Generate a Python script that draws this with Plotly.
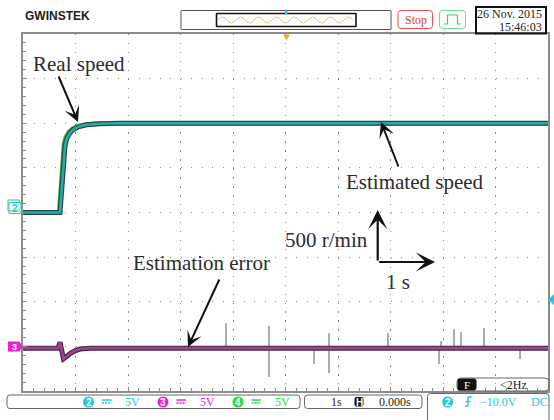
import plotly.graph_objects as go

W, H = 554, 420

# ---- waveform data -------------------------------------------------------
# time in seconds (1 s/div, 0 at screen centre), speed in r/min (500 r/min/div)
speed_t = [-5.0, -4.295, -4.20, -4.168, -4.105, -4.042, -3.947, -3.787, -3.533, -3.152, 5.0]
est_speed = [0, 0, 744, 826, 893, 930, 960, 983, 994, 1000, 1000]

real_t = [-5.0, -4.31, -4.22, -4.18, -4.12, -4.06, -3.96, -3.80, -3.55, -3.10, 5.0]
real_speed = [0, 0, 770, 850, 905, 938, 964, 985, 996, 1000, 1000]

err_t = [-5.0, -4.333, -4.295, -4.276, -4.229, -4.181, -4.105, -4.01, -3.914, -3.724, 5.0]
err_val = [-20, -20, 47, -20, -140, -120, -80, -50, -30, -20, -20]

# isolated glitches on the error channel: time, lower end, upper end
spike_t = [-1.133, -0.314, 0.543, 0.829, 1.952, 2.924, 2.962, 3.21, 3.343, 3.781, 4.467]
spike_lo = [-20, -343, -198, -299, -20, -198, -20, -20, -20, -20, -142]
spike_hi = [259, 229, -20, 148, 148, -20, 60, 192, 159, 204, -20]

# ---- instrument readouts ---------------------------------------------------
channels = ["2", "3", "4"]
channel_scale = ["5V", "5V", "5V"]
timebase = "1s"
h_position = "0.000s"
trig_channel = "2"
trig_level = "\u221210.0V"
trig_coupling = "DC"
freq_readout = "<2Hz"
date_text = "26 Nov. 2015"
time_text = "15:46:03"

CYAN = "#1ec8e6"
MAGENTA = "#ee22cc"
GREEN = "#22dd44"
SERIF = "Liberation Serif"
NPTS = {"M": 1, "L": 1, "Q": 2}


def P(x, y):
    """pixel position -> paper coordinates"""
    return x / W, 1 - y / H


def path_from(points, close=True):
    parts = []
    for cmd, pts in points:
        n = NPTS[cmd]
        for i in range(0, len(pts), n):
            parts.append(cmd + " ".join("%.5f,%.5f" % P(*p) for p in pts[i:i + n]))
    return " ".join(parts) + (" Z" if close else "")


def rrect(x0, y0, x1, y1, r):
    return path_from([
        ("M", [(x0 + r, y0)]), ("L", [(x1 - r, y0)]), ("Q", [(x1, y0), (x1, y0 + r)]),
        ("L", [(x1, y1 - r)]), ("Q", [(x1, y1), (x1 - r, y1)]), ("L", [(x0 + r, y1)]),
        ("Q", [(x0, y1), (x0, y1 - r)]), ("L", [(x0, y0 + r)]), ("Q", [(x0, y0), (x0 + r, y0)]),
    ])


fig = go.Figure()

# real speed (channel 4) under the estimated speed (channel 2)
fig.add_trace(go.Scatter(x=real_t, y=real_speed, mode="lines",
                         line=dict(color="#4aa832", width=4.5), hoverinfo="skip"))
fig.add_trace(go.Scatter(x=speed_t, y=est_speed, mode="lines",
                         line=dict(color="#234c48", width=5), hoverinfo="skip"))
fig.add_trace(go.Scatter(x=speed_t, y=est_speed, mode="lines",
                         line=dict(color="#29aba5", width=2.6), hoverinfo="skip"))

# estimation error (channel 3)
sx, sy = [], []
for t, lo, hi in zip(spike_t, spike_lo, spike_hi):
    sx += [t, t, None]
    sy += [lo, hi, None]
fig.add_trace(go.Scatter(x=sx, y=sy, mode="lines", yaxis="y2",
                         line=dict(color="#5a5a5a", width=1), hoverinfo="skip"))
fig.add_trace(go.Scatter(x=err_t, y=err_val, mode="lines", yaxis="y2",
                         line=dict(color="#4a2244", width=5), hoverinfo="skip"))
fig.add_trace(go.Scatter(x=err_t, y=err_val, mode="lines", yaxis="y2",
                         line=dict(color="#9c4690", width=2.6), hoverinfo="skip"))

x_dom = [23 / W, 548 / W]
y_dom = [1 - 391 / H, 1 - 34 / H]

fig.update_layout(
    width=W, height=H, margin=dict(l=0, r=0, t=0, b=0),
    paper_bgcolor="white", plot_bgcolor="white", showlegend=False,
    xaxis=dict(domain=x_dom, range=[-5, 5], dtick=1, showticklabels=False,
               showgrid=True, gridcolor="#8a8a8a", gridwidth=1.2, griddash="1.4px,7.55px",
               zeroline=False, showline=True, linecolor="#8c8c8c", linewidth=2, mirror=True,
               ticks="inside", ticklen=4, tickcolor="#8c8c8c",
               minor=dict(dtick=0.2, ticks="inside", ticklen=3, tickcolor="#8c8c8c", showgrid=False)),
    yaxis=dict(domain=y_dom, range=[-2000, 2000], dtick=500, showticklabels=False,
               showgrid=True, gridcolor="#8a8a8a", gridwidth=1.2, griddash="1.4px,9.1px",
               zeroline=False, showline=True, linecolor="#8c8c8c", linewidth=2, mirror=True,
               ticks="inside", ticklen=4, tickcolor="#8c8c8c",
               minor=dict(dtick=100, ticks="inside", ticklen=3, tickcolor="#8c8c8c", showgrid=False)),
    yaxis2=dict(domain=y_dom, range=[-500, 3500], overlaying="y", visible=False),
)

shapes = []
ann = []


def text(x, y, s, size=12, color="#222", family=SERIF, xanchor="center", bold=False):
    ann.append(dict(xref="paper", yref="paper", x=P(x, y)[0], y=P(x, y)[1], text=s,
                    showarrow=False, xanchor=xanchor, yanchor="middle",
                    font=dict(size=size, color=color, family=family,
                              weight="bold" if bold else "normal")))


def arrow(x0, y0, x1, y1, width=2, size=1.0, head=3):
    hx, hy = P(x1, y1)
    ann.append(dict(xref="paper", yref="paper", axref="pixel", ayref="pixel",
                    x=hx, y=hy, ax=x0 - x1, ay=y0 - y1, text="", showarrow=True,
                    arrowhead=head, arrowsize=size, arrowwidth=width,
                    arrowcolor="#111", standoff=0, startstandoff=0))


def line(x0, y0, x1, y1, color, width=1, dash="solid"):
    a, b = P(x0, y0)
    c, d = P(x1, y1)
    shapes.append(dict(type="line", xref="paper", yref="paper", x0=a, y0=b, x1=c, y1=d,
                       line=dict(color=color, width=width, dash=dash)))


def path(p, line_color=None, fill=None, width=1):
    shapes.append(dict(type="path", xref="paper", yref="paper", path=p,
                       line=dict(color=line_color or "rgba(0,0,0,0)", width=width),
                       fillcolor=fill or "rgba(0,0,0,0)"))


# ---- header -------------------------------------------------------------------
text(23, 16, "GWINSTEK", size=12, color="#222", family="Liberation Sans", xanchor="left", bold=True)

path(rrect(181, 10.5, 391, 29.5, 0.5), line_color="#555", width=1)
path(rrect(216.5, 13.5, 356, 26.5, 0.5), line_color="#111", width=1.6)
# memory-position wave icon
wave = [("M", [(218, 20)])]
xw, half, up = 218.0, 9.0, True
while xw + half <= 355:
    wave.append(("Q", [(xw + half / 2, 20 - 6 if up else 20 + 6), (xw + half, 20)]))
    xw += half
    up = not up
path(path_from(wave, close=False), line_color="#f2c84a", width=1)
path(rrect(285, 10.5, 287.5, 14.5, 0.3), fill=CYAN)
path(path_from([("M", [(283, 34.5)]), ("L", [(290, 34.5), (286.5, 40.5)])]), fill="#f0b020")

path(rrect(398, 10.5, 432.5, 28.5, 3), line_color="#e85050", width=1)
text(415.5, 19.5, "Stop", size=12, color="#e03a3a")
path(rrect(439.5, 10.5, 465.5, 28.5, 3), line_color="#66e08a", width=1)
path(path_from([("M", [(444, 24)]), ("L", [(447.5, 24), (447.5, 15), (457.5, 15), (457.5, 24), (461, 24)])],
               close=False), line_color="#3ccf66", width=1.2)

path(rrect(476, 7, 546, 33.5, 0), line_color="#111", width=2)
text(544, 14, date_text, size=12, xanchor="right")
text(544, 26.5, time_text, size=12, xanchor="right")

# ---- channel ground markers ----------------------------------------------------
path(path_from([("M", [(8, 200)]), ("L", [(19, 200), (21.5, 205.5), (19, 211), (8, 211)])]),
     line_color=GREEN, width=1)
path(path_from([("M", [(9, 202.5)]), ("L", [(20, 202.5), (22.5, 208), (20, 213.5), (9, 213.5)])]),
     line_color=CYAN, width=1)
text(15, 208.5, "2", size=10, color=CYAN, family="Liberation Sans", bold=True)
path(path_from([("M", [(8, 341.5)]), ("L", [(19.5, 341.5), (22.5, 346.5), (19.5, 351.5), (8, 351.5)])]),
     fill=MAGENTA)
text(14.5, 346.5, "3", size=9, color="white", family="Liberation Sans", bold=True)
# trigger level marker
path(path_from([("M", [(554, 294)]), ("L", [(554, 305), (548, 299.5)])]), fill=CYAN)

# ---- annotations ----------------------------------------------------------------
text(78.5, 64, "Real speed", size=21, color="#2c2c2c")
arrow(58, 75, 78, 122, width=2, size=1.3)
text(415, 182, "Estimated speed", size=21, color="#2c2c2c")
arrow(399, 168, 381, 122, width=2, size=1.3)
text(201, 263, "Estimation error", size=21, color="#2c2c2c")
arrow(220, 278, 188, 347, width=2, size=1.3)
text(326, 240, "500 r/min", size=21, color="#2c2c2c")
arrow(377.7, 262, 377.7, 210, width=2.2, size=1.45)
arrow(377.7, 262, 435, 262, width=2.2, size=1.45)
text(397.5, 282, "1 s", size=21, color="#2c2c2c")

# ---- bottom status bar ----------------------------------------------------------------
path(rrect(7, 395, 300, 408.5, 3), line_color="#666", width=1)
ch_colors = [CYAN, MAGENTA, GREEN]
ch_x = [88.5, 163, 238]
for name, vdiv, col, cx in zip(channels, channel_scale, ch_colors, ch_x):
    shapes.append(dict(type="circle", xref="paper", yref="paper",
                       x0=P(cx - 5.5, 0)[0], x1=P(cx + 5.5, 0)[0],
                       y0=P(0, 407.5)[1], y1=P(0, 396.5)[1],
                       fillcolor=col, line=dict(width=0)))
    text(cx, 402.3, name, size=10, color="white", family="Liberation Sans", bold=True)
    line(cx + 13.5, 400, cx + 23, 400, col, width=1.5)
    line(cx + 13.5, 403, cx + 23, 403, col, width=1.5, dash="2px,1px")
    text(cx + 44, 402, vdiv, size=12, color=col)

path(rrect(304.5, 395, 422, 408.5, 3), line_color="#666", width=1)
text(336, 402, timebase, size=12, color="#222")
path(rrect(354.5, 397, 363.5, 406.5, 2), fill="#111")
text(359, 402, "H", size=10, color="white", family="Liberation Sans", bold=True)
text(395, 402, h_position, size=12, color="#222")

path(rrect(427.5, 393.5, 549, 430, 3), line_color="#666", width=1)
shapes.append(dict(type="circle", xref="paper", yref="paper",
                   x0=P(442.2, 0)[0], x1=P(453.2, 0)[0], y0=P(0, 407.5)[1], y1=P(0, 396.5)[1],
                   fillcolor=CYAN, line=dict(width=0)))
text(447.7, 402.3, trig_channel, size=10, color="white", family="Liberation Sans", bold=True)
path(path_from([("M", [(465, 406)]), ("L", [(468, 406), (468, 397), (471.5, 397)])], close=False),
     line_color=CYAN, width=1.3)
line(465.5, 401.5, 470.5, 401.5, CYAN, width=1.3)
text(498, 402, trig_level, size=12, color=CYAN)
text(539.5, 402, trig_coupling, size=12, color=CYAN)

path(rrect(457, 378, 549, 391, 4), line_color="#666", width=1)
path(rrect(457.5, 378.5, 476.5, 390.5, 3), fill="#111")
text(467, 384.5, "F", size=11, color="white")
text(513, 384.5, freq_readout, size=12, color="#222")

fig.update_layout(shapes=shapes, annotations=ann)
fig.write_html("out.html")
